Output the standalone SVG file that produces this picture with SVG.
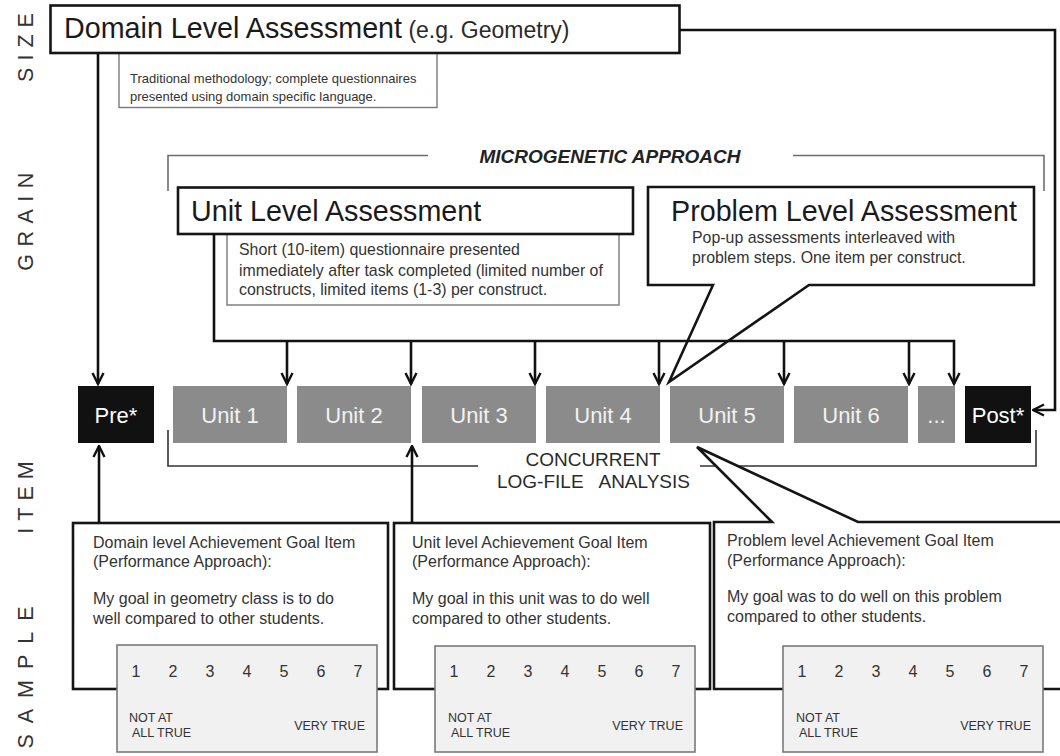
<svg xmlns="http://www.w3.org/2000/svg" width="1060" height="756" viewBox="0 0 1060 756">
<defs>
<style>
text{font-family:"Liberation Sans",Arial,sans-serif;fill:#2a2a2a}
.side{font-size:21.5px;fill:#333}
.title{font-size:28.7px;fill:#1a1a1a}
.sub{font-size:23px}
.d13{font-size:13px;fill:#333}
.d16{font-size:15.9px;fill:#333}
.b16{font-size:16px;fill:#333}
.num{font-size:16px;fill:#333;text-anchor:middle}
.sm{font-size:12.5px;fill:#333}
.unitlbl{font-size:22px;fill:#f2f2f2;text-anchor:middle}
.blk{font-size:22px;fill:#ffffff;text-anchor:middle}
.box{fill:#fff;stroke:#151515;stroke-width:2.6}
.thin{fill:#fff;stroke:#7a7a7a;stroke-width:1.4}
.scale{fill:#f1f1f1;stroke:#7a7a7a;stroke-width:1.6}
.unit{fill:#8b8b8b}
.dark{fill:#111}
.brk{fill:none;stroke:#6e6e6e;stroke-width:1.6}
.brk2{fill:none;stroke:#333;stroke-width:1.6}
.con{fill:none;stroke:#111;stroke-width:2.6}
.arr{marker-end:url(#ah)}
</style>
<marker id="ah" viewBox="0 0 14 14" refX="12.5" refY="7" markerWidth="14" markerHeight="14" markerUnits="userSpaceOnUse" orient="auto">
<path d="M1.5,1.5 L12.5,7 L1.5,12.5" fill="none" stroke="#111" stroke-width="2.4"/>
</marker>
</defs>
<rect width="1060" height="756" fill="#fff"/>

<g id="side-labels">
<text class="side" transform="translate(33,44) rotate(-90)" text-anchor="middle" letter-spacing="7">SIZE</text>
<text class="side" transform="translate(33,218) rotate(-90)" text-anchor="middle" letter-spacing="7.5">GRAIN</text>
<text class="side" transform="translate(33,494) rotate(-90)" text-anchor="middle" letter-spacing="7">ITEM</text>
<text class="side" transform="translate(33,672) rotate(-90)" text-anchor="middle" letter-spacing="11">SAMPLE</text>
</g>

<g id="brackets">
<path class="brk" d="M168,191 V155.5 H428"/>
<path class="brk" d="M793,155.5 H1044 V191"/>
<text x="610" y="163" text-anchor="middle" style="font-size:19px;font-weight:bold;font-style:italic;fill:#222">MICROGENETIC APPROACH</text>
<path class="brk2" d="M168,430 V466 H478"/>
<path class="brk2" d="M700,466 H1036 V430"/>
<text x="593" y="466" text-anchor="middle" style="font-size:19px;fill:#2a2a2a">CONCURRENT</text>
<text y="488" style="font-size:19px;fill:#2a2a2a"><tspan x="497">LOG-FILE</tspan><tspan x="690" text-anchor="end">ANALYSIS</tspan></text>
</g>

<g id="domain-level">
<rect class="thin" x="119" y="45" width="318" height="62.5"/>
<text class="d13"><tspan x="130" y="83">Traditional methodology; complete questionnaires</tspan><tspan x="130" y="101">presented using domain specific language.</tspan></text>
<rect class="box" x="50.5" y="5.5" width="629" height="47.5"/>
<text x="64" y="38"><tspan class="title">Domain Level Assessment</tspan><tspan class="sub"> (e.g. Geometry)</tspan></text>
</g>

<g id="unit-level">
<rect class="thin" x="227" y="225" width="392" height="80"/>
<text class="d16"><tspan x="239" y="255">Short (10-item) questionnaire presented</tspan><tspan x="239" y="275.5">immediately after task completed (limited number of</tspan><tspan x="239" y="295">constructs, limited items (1-3) per construct.</tspan></text>
<rect class="box" x="178" y="187.5" width="455" height="46.5"/>
<text class="title" x="191" y="221">Unit Level Assessment</text>
</g>

<g id="problem-level">
<path class="box" d="M713,285 L669,382 L809,285 H1034 V187 H648 V285 Z"/>
<text class="title" x="671" y="221">Problem Level Assessment</text>
<text class="d16"><tspan x="692" y="243">Pop-up assessments interleaved with</tspan><tspan x="692" y="263">problem steps. One item per construct.</tspan></text>
</g>

<g id="timeline">
<g id="pre"><rect class="dark" x="78" y="386" width="76" height="57"/><text class="blk" x="116" y="423">Pre*</text></g>
<g id="unit1"><rect class="unit" x="173" y="386" width="114" height="57"/><text class="unitlbl" x="230" y="423">Unit 1</text></g>
<g id="unit2"><rect class="unit" x="297" y="386" width="114" height="57"/><text class="unitlbl" x="354" y="423">Unit 2</text></g>
<g id="unit3"><rect class="unit" x="422" y="386" width="114" height="57"/><text class="unitlbl" x="479" y="423">Unit 3</text></g>
<g id="unit4"><rect class="unit" x="546" y="386" width="114" height="57"/><text class="unitlbl" x="603" y="423">Unit 4</text></g>
<g id="unit5"><rect class="unit" x="670" y="386" width="114" height="57"/><text class="unitlbl" x="727" y="423">Unit 5</text></g>
<g id="unit6"><rect class="unit" x="794" y="386" width="114" height="57"/><text class="unitlbl" x="851" y="423">Unit 6</text></g>
<g id="more"><rect class="unit" x="918" y="386" width="37" height="57"/><text class="unitlbl" x="936.5" y="423">...</text></g>
<g id="post"><rect class="dark" x="965" y="386" width="66" height="57"/><text class="blk" x="998" y="423">Post*</text></g>
</g>

<g id="sample-domain">
<rect class="box" x="73" y="523" width="315" height="166"/>
<text class="b16"><tspan x="93" y="548">Domain level Achievement Goal Item</tspan><tspan x="93" y="567">(Performance Approach):</tspan><tspan x="93" y="604">My goal in geometry class is to do</tspan><tspan x="93" y="624">well compared to other students.</tspan></text>
<rect class="scale" x="117" y="645" width="260" height="107"/>
<g transform="translate(117,0)">
<text class="num" y="677"><tspan x="19">1</tspan><tspan x="56">2</tspan><tspan x="93">3</tspan><tspan x="130">4</tspan><tspan x="167">5</tspan><tspan x="204">6</tspan><tspan x="241">7</tspan></text>
<text class="sm"><tspan x="12" y="722">NOT AT</tspan><tspan x="15" y="737">ALL TRUE</tspan></text>
<text class="sm" x="248" y="730" text-anchor="end">VERY TRUE</text>
</g>
</g>

<g id="sample-unit">
<rect class="box" x="394" y="523" width="316" height="166"/>
<text class="b16"><tspan x="412" y="548">Unit level Achievement Goal Item</tspan><tspan x="412" y="567">(Performance Approach):</tspan><tspan x="412" y="604">My goal in this unit was to do well</tspan><tspan x="412" y="624">compared to other students.</tspan></text>
<rect class="scale" x="435" y="646" width="260" height="106"/>
<g transform="translate(435,0)">
<text class="num" y="677"><tspan x="19">1</tspan><tspan x="56">2</tspan><tspan x="93">3</tspan><tspan x="130">4</tspan><tspan x="167">5</tspan><tspan x="204">6</tspan><tspan x="241">7</tspan></text>
<text class="sm"><tspan x="13" y="722">NOT AT</tspan><tspan x="16" y="737">ALL TRUE</tspan></text>
<text class="sm" x="248" y="730" text-anchor="end">VERY TRUE</text>
</g>
</g>

<g id="sample-problem">
<path class="box" d="M772,522 L697,447 L858,522 H1070 V689 H714 V522 Z"/>
<text class="b16"><tspan x="727" y="546">Problem level Achievement Goal Item</tspan><tspan x="727" y="566">(Performance Approach):</tspan><tspan x="727" y="602">My goal was to do well on this problem</tspan><tspan x="727" y="622">compared to other students.</tspan></text>
<rect class="scale" x="783" y="646" width="260" height="106"/>
<g transform="translate(783,0)">
<text class="num" y="677"><tspan x="19">1</tspan><tspan x="56">2</tspan><tspan x="93">3</tspan><tspan x="130">4</tspan><tspan x="167">5</tspan><tspan x="204">6</tspan><tspan x="241">7</tspan></text>
<text class="sm"><tspan x="13" y="722">NOT AT</tspan><tspan x="16" y="737">ALL TRUE</tspan></text>
<text class="sm" x="248" y="730" text-anchor="end">VERY TRUE</text>
</g>
</g>

<g id="connectors">
<path class="con arr" d="M98,53 V384"/>
<path class="con arr" d="M680,30 H1055 V410 H1033"/>
<path class="con arr" d="M214,234 V341 H954 V384"/>
<path class="con arr" d="M287,341 V384"/>
<path class="con arr" d="M411,341 V384"/>
<path class="con arr" d="M535,341 V384"/>
<path class="con arr" d="M659,341 V384"/>
<path class="con arr" d="M784,341 V384"/>
<path class="con arr" d="M909,341 V384"/>
<path class="con arr" d="M99,523 V446"/>
<path class="con arr" d="M412,523 V446"/>
</g>
</svg>
